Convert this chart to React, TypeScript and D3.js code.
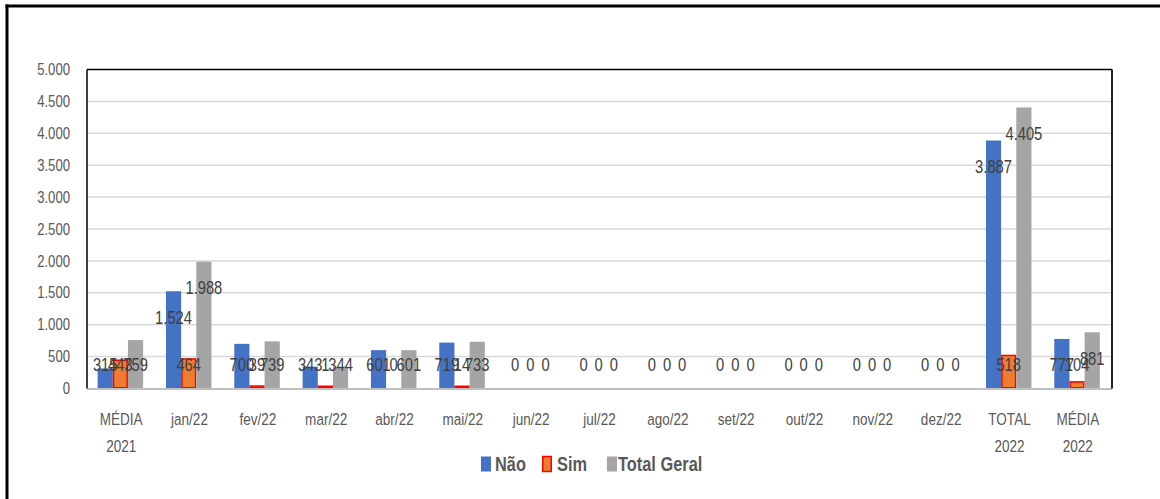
import React from "react";
import * as d3 from "d3";

const categories = [
  ["MÉDIA", "2021"], ["jan/22"], ["fev/22"], ["mar/22"], ["abr/22"], ["mai/22"],
  ["jun/22"], ["jul/22"], ["ago/22"], ["set/22"], ["out/22"], ["nov/22"], ["dez/22"],
  ["TOTAL", "2022"], ["MÉDIA", "2022"],
];
const nao = [315, 1524, 700, 343, 601, 719, 0, 0, 0, 0, 0, 0, 0, 3887, 777];
const sim = [443, 464, 39, 1, 0, 14, 0, 0, 0, 0, 0, 0, 0, 518, 104];
const totalGeral = [759, 1988, 739, 344, 601, 733, 0, 0, 0, 0, 0, 0, 0, 4405, 881];
const yTicks = [0, 500, 1000, 1500, 2000, 2500, 3000, 3500, 4000, 4500, 5000];

const series = [
  { name: "Não", values: nao, fill: "#4472C4", stroke: "none" },
  { name: "Sim", values: sim, fill: "#ED7D31", stroke: "#FF0000" },
  { name: "Total Geral", values: totalGeral, fill: "#A5A5A5", stroke: "none" },
];

const W = 1160;
const H = 499;
const left = 87;
const right = 1112;
const top = 69.5;
const bottom = 388.5;
const FONT = "'Liberation Sans', Arial, sans-serif";
const NARROW = 0.82;

const fmt = (v: number) => {
  const s = String(Math.round(v));
  return s.replace(/\B(?=(\d{3})+(?!\d))/g, ".");
};

// condensed text: horizontally squeezed around its anchor point
function Txt(props: {
  x: number;
  y: number;
  size: number;
  anchor?: "start" | "middle" | "end";
  weight?: string;
  fill?: string;
  dy?: string;
  children: React.ReactNode;
}) {
  return (
    <g transform={`translate(${props.x},${props.y}) scale(${NARROW},1)`}>
      <text
        x={0}
        y={0}
        dy={props.dy}
        textAnchor={props.anchor || "start"}
        fontSize={props.size}
        fontWeight={props.weight || "normal"}
        fill={props.fill || "#595959"}
      >
        {props.children}
      </text>
    </g>
  );
}

export default function App() {
  const x = d3
    .scaleBand<number>()
    .domain(categories.map((_, i) => i))
    .range([left, right])
    .padding(0);
  const y = d3.scaleLinear().domain([0, 5000]).range([bottom, top]);
  const step = x.step();
  const barW = step * 0.222;
  const groupW = barW * 3;

  const barX = (i: number, s: number) =>
    (x(i) as number) + (step - groupW) / 2 - 0.8 + s * barW;

  const labelY = (v: number) => Math.min(y(v) + 26, y(0) - 24);

  return (
    <svg
      width={W}
      height={H}
      style={{ position: "absolute", left: 0, top: 0, background: "#fff" }}
      fontFamily={FONT}
    >
      <rect x={0} y={0} width={W} height={H} fill="#fff" />
      {/* outer frame */}
      <line x1={5.5} x2={W} y1={6} y2={6} stroke="#000" strokeWidth={3} />
      <line x1={7} x2={7} y1={4.5} y2={H} stroke="#000" strokeWidth={3} />

      {/* gridlines */}
      {yTicks.slice(1, -1).map((t) => (
        <line key={t} x1={left} x2={right} y1={y(t)} y2={y(t)} stroke="#D9D9D9" strokeWidth={1.5} />
      ))}

      {/* y tick labels */}
      {yTicks.map((t) => (
        <Txt key={t} x={70} y={y(t)} dy="0.35em" anchor="end" size={16}>
          {fmt(t)}
        </Txt>
      ))}

      {/* bars */}
      {series.map((s, si) =>
        s.values.map((v, i) => {
          if (v <= 0) return null;
          const stroked = s.stroke !== "none";
          const h = y(0) - y(v);
          const hh = stroked ? Math.max(1.5, h - 0.75) : h;
          return (
            <rect
              key={`${si}-${i}`}
              x={barX(i, si) + (stroked ? 0.75 : 0)}
              y={y(0) - hh - (stroked ? 0.75 : 0)}
              width={barW - (stroked ? 1.5 : 0)}
              height={hh}
              fill={s.fill}
              stroke={s.stroke}
              strokeWidth={1.5}
            />
          );
        })
      )}

      {/* axis lines and plot border */}
      <line x1={left} x2={right} y1={bottom + 0.5} y2={bottom + 0.5} stroke="#BFBFBF" strokeWidth={2} />
      <line x1={left} x2={right} y1={top} y2={top} stroke="#000" strokeWidth={1.5} />
      <line x1={left} x2={left} y1={top} y2={bottom} stroke="#000" strokeWidth={1.5} />
      <line x1={right} x2={right} y1={top} y2={bottom} stroke="#222" strokeWidth={2} />

      {/* data labels */}
      {series.map((s, si) =>
        s.values.map((v, i) => (
          <Txt
            key={`l${si}-${i}`}
            x={barX(i, si) + barW / 2}
            y={labelY(v)}
            dy="0.35em"
            anchor="middle"
            size={18}
            fill="#404040"
          >
            {fmt(v)}
          </Txt>
        ))
      )}

      {/* category labels */}
      {categories.map((lines, i) =>
        lines.map((ln, k) => (
          <Txt
            key={`c${i}-${k}`}
            x={(x(i) as number) + step / 2}
            y={425 + k * 27}
            anchor="middle"
            size={16.5}
          >
            {ln}
          </Txt>
        ))
      )}

      {/* legend */}
      {[
        { sx: 481, tx: 495 },
        { sx: 542, tx: 557 },
        { sx: 607, tx: 618 },
      ].map((p, k) => (
        <g key={`lg${k}`}>
          <rect
            x={p.sx + (k === 1 ? 0.75 : 0)}
            y={456.5}
            width={10 - (k === 1 ? 1.5 : 0)}
            height={15}
            fill={series[k].fill}
            stroke={series[k].stroke}
            strokeWidth={1.5}
          />
          <Txt x={p.tx} y={471} size={20} weight="bold">
            {series[k].name}
          </Txt>
        </g>
      ))}
    </svg>
  );
}
